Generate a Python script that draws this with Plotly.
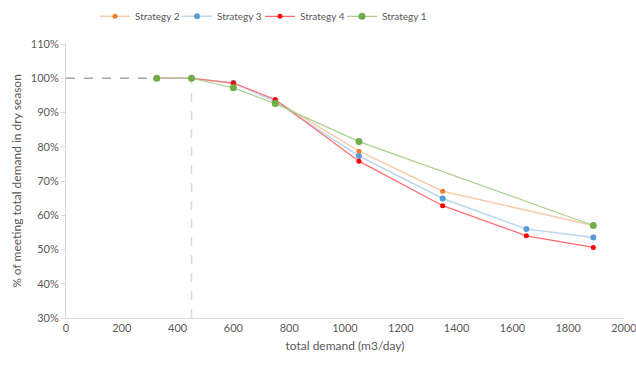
import plotly.graph_objects as go

# Data
x_s1 = [325, 450, 600, 750, 1050, 1890]
y_s1 = [100, 100, 97.2, 92.6, 81.5, 57.0]

x_s2 = [325, 450, 600, 750, 1050, 1350, 1890]
y_s2 = [100, 100, 98.5, 93.5, 78.7, 67.0, 57.0]

x_s3 = [325, 450, 600, 750, 1050, 1350, 1650, 1890]
y_s3 = [100, 100, 98.6, 93.2, 77.3, 64.9, 56.0, 53.5]

x_s4 = [325, 450, 600, 750, 1050, 1350, 1650, 1890]
y_s4 = [100, 100, 98.6, 93.8, 75.8, 62.8, 54.0, 50.6]

ref_demand = 450      # reference demand (vertical dashed line)
ref_pct = 100         # reference percentage (horizontal dashed line)
y_min, y_max = 30, 110
x_min, x_max = 0, 2000

font_family = "Lato, 'Open Sans', sans-serif"
grey_text = "#595959"

fig = go.Figure()

# reference dashed lines
fig.add_trace(go.Scatter(x=[x_min, ref_demand], y=[ref_pct, ref_pct], mode="lines",
                         line=dict(color="#A6A6A6", width=1.5, dash="dash"),
                         showlegend=False, hoverinfo="skip"))
fig.add_trace(go.Scatter(x=[ref_demand, ref_demand], y=[y_min, ref_pct], mode="lines",
                         line=dict(color="#D9D9D9", width=1.5, dash="dash"),
                         showlegend=False, hoverinfo="skip"))

fig.add_trace(go.Scatter(x=x_s2, y=y_s2, name="Strategy 2", mode="lines+markers",
                         line=dict(color="#F8CBAD", width=1.5),
                         marker=dict(color="#ED7D31", size=5), legend="legend"))
fig.add_trace(go.Scatter(x=x_s3, y=y_s3, name="Strategy 3", mode="lines+markers",
                         line=dict(color="#BDD7EE", width=1.5),
                         marker=dict(color="#5B9BD5", size=6), legend="legend2"))
fig.add_trace(go.Scatter(x=x_s4, y=y_s4, name="Strategy 4", mode="lines+markers",
                         line=dict(color="#FF6B6B", width=1.2),
                         marker=dict(color="#FF0000", size=5), legend="legend3"))
fig.add_trace(go.Scatter(x=x_s1, y=y_s1, name="Strategy 1", mode="lines+markers",
                         line=dict(color="#A9D18E", width=1.2),
                         marker=dict(color="#70AD47", size=7), legend="legend4"))


def legend_at(px):
    return dict(orientation="h", xref="container", x=px / 636, xanchor="left",
                yref="container", y=0.995, yanchor="top",
                font=dict(size=10, color=grey_text), itemwidth=30,
                bgcolor="rgba(0,0,0,0)")


fig.update_layout(
    width=636, height=367,
    margin=dict(l=66, r=12, t=44, b=49, autoexpand=False),
    paper_bgcolor="white", plot_bgcolor="white",
    font=dict(family=font_family, size=11, color=grey_text),
    legend=legend_at(95), legend2=legend_at(177), legend3=legend_at(260), legend4=legend_at(342),
    showlegend=True,
)

fig.update_xaxes(range=[x_min, x_max], dtick=200, tick0=0, showgrid=False, zeroline=False,
                 showline=True, linecolor="#D9D9D9", linewidth=1, automargin=False,
                 ticks="", tickfont=dict(size=11, color=grey_text), ticklabeloverflow="allow",
                 title=dict(text="total demand (m3/day)", font=dict(size=12, color=grey_text), standoff=8))
fig.update_yaxes(range=[y_min, y_max], dtick=10, tick0=0, ticksuffix="%", showgrid=False,
                 zeroline=False, showline=True, linecolor="#D9D9D9", linewidth=1, automargin=False,
                 ticks="outside", ticklen=4, tickcolor="#D9D9D9",
                 tickfont=dict(size=11, color=grey_text),
                 title=dict(text="% of meeting total demand in dry season",
                            font=dict(size=12, color=grey_text), standoff=6))

fig.write_html("out.html", config={"displayModeBar": False},
               post_script="document.body.style.margin='0';")
